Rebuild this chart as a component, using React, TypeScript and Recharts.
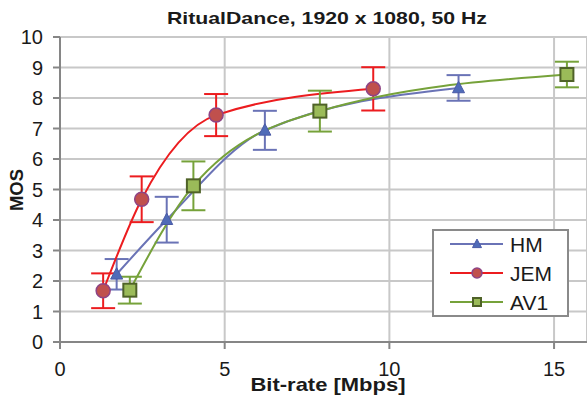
import React from 'react';
import {
  LineChart,
  Line,
  XAxis,
  YAxis,
  CartesianGrid,
  ErrorBar,
  ReferenceLine
} from 'recharts';

const hmRate = [1.72, 3.24, 6.22, 12.1];
const hmMos = [2.22, 4.01, 6.94, 8.33];
const hmErr = [0.5, 0.75, 0.64, 0.42];

const jemRate = [1.31, 2.48, 4.74, 9.51];
const jemMos = [1.68, 4.68, 7.44, 8.3];
const jemErr = [0.57, 0.75, 0.69, 0.71];

const av1Rate = [2.12, 4.05, 7.89, 15.39];
const av1Mos = [1.7, 5.12, 7.57, 8.77];
const av1Err = [0.44, 0.8, 0.67, 0.42];

const xTicks = [0, 5, 10, 15];
const yTicks = [0, 1, 2, 3, 4, 5, 6, 7, 8, 9, 10];

const toPoints = (rate: number[], mos: number[], err: number[]) =>
  rate.map((x, i) => ({ x, y: mos[i], err: err[i] }));

const hmData = toPoints(hmRate, hmMos, hmErr);
const jemData = toPoints(jemRate, jemMos, jemErr);
const av1Data = toPoints(av1Rate, av1Mos, av1Err);

const FONT = '"Liberation Sans", Arial, sans-serif';
const HM_COLOR = '#6a73b6';
const JEM_COLOR = '#ec1c1f';
const AV1_COLOR = '#76a23a';

const Triangle = ({ cx, cy, s = 12 }: any) => (
  <path
    d={`M${cx},${cy - s * 0.55} L${cx + s / 2},${cy + s * 0.4} L${cx - s / 2},${cy + s * 0.4} Z`}
    fill="#4f6bb8"
    stroke="#4a5aa6"
    strokeWidth={1}
  />
);
const Circle = ({ cx, cy, r = 7 }: any) => (
  <circle cx={cx} cy={cy} r={r} fill="#c0504d" stroke="#8e4485" strokeWidth={1.5} />
);
const Square = ({ cx, cy, s = 13 }: any) => (
  <rect x={cx - s / 2} y={cy - s / 2} width={s} height={s} fill="#9bbb59" stroke="#4f6228" strokeWidth={2} />
);

const legendItems = [
  { name: 'HM', color: HM_COLOR },
  { name: 'JEM', color: JEM_COLOR },
  { name: 'AV1', color: AV1_COLOR }
];

const LegendBox = () => (
  <g transform="translate(432,229)">
    <rect x={1} y={1} width={135} height={86} fill="#fff" stroke="#8a8a8a" strokeWidth={2} />
    {legendItems.map((it, i) => {
      const cy = 15 + i * 29;
      return (
        <g key={it.name}>
          <line x1={18} x2={71} y1={cy} y2={cy} stroke={it.color} strokeWidth={2} />
          {i === 0 && <Triangle cx={45} cy={cy} s={9} />}
          {i === 1 && <Circle cx={45} cy={cy} r={5} />}
          {i === 2 && <Square cx={45} cy={cy} s={8} />}
          <text x={78} y={cy + 7.5} fontSize={21} fontFamily={FONT} fill="#1a1a1a">
            {it.name}
          </text>
        </g>
      );
    })}
  </g>
);

const App: React.FC = () => {
  return (
    <div style={{ position: 'relative', width: 587, height: 406, background: '#fff', overflow: 'hidden' }}>
      <style>{'body{margin:0}'}</style>
      <LineChart width={587} height={406} margin={{ top: 37, right: 0, left: 0, bottom: 0 }}>
        <CartesianGrid stroke="#c8c8c8" strokeWidth={2} />
        <XAxis
          type="number"
          dataKey="x"
          domain={[0, 16]}
          ticks={xTicks}
          interval={0}
          height={64}
          allowDataOverflow
          stroke="#868686"
          strokeWidth={2}
          tickSize={7}
          tickMargin={13}
          tick={{ fontSize: 20, fontFamily: FONT, fill: '#1a1a1a' }}
        />
        <YAxis
          type="number"
          dataKey="y"
          domain={[0, 10]}
          ticks={yTicks}
          interval={0}
          width={60}
          stroke="#868686"
          strokeWidth={2}
          tickSize={7}
          tickMargin={10}
          tick={{ fontSize: 20, fontFamily: FONT, fill: '#1a1a1a' }}
        />
        <ReferenceLine x={16} stroke="#c8c8c8" strokeWidth={2} />
        <Line
          data={hmData}
          dataKey="y"
          name="HM"
          type="monotone"
          stroke={HM_COLOR}
          strokeWidth={2}
          dot={(p: any) => <Triangle key={`hm${p.index}`} cx={p.cx} cy={p.cy} />}
          activeDot={false}
          isAnimationActive={false}
        >
          <ErrorBar dataKey="err" direction="y" width={12} stroke={HM_COLOR} strokeWidth={2} />
        </Line>
        <Line
          data={jemData}
          dataKey="y"
          name="JEM"
          type="monotone"
          stroke={JEM_COLOR}
          strokeWidth={2}
          dot={(p: any) => <Circle key={`jem${p.index}`} cx={p.cx} cy={p.cy} />}
          activeDot={false}
          isAnimationActive={false}
        >
          <ErrorBar dataKey="err" direction="y" width={12} stroke={JEM_COLOR} strokeWidth={2} />
        </Line>
        <Line
          data={av1Data}
          dataKey="y"
          name="AV1"
          type="monotone"
          stroke={AV1_COLOR}
          strokeWidth={2}
          dot={(p: any) => <Square key={`av1${p.index}`} cx={p.cx} cy={p.cy} />}
          activeDot={false}
          isAnimationActive={false}
        >
          <ErrorBar dataKey="err" direction="y" width={12} stroke={AV1_COLOR} strokeWidth={2} />
        </Line>
      </LineChart>
      <svg
        width={587}
        height={406}
        style={{ position: 'absolute', left: 0, top: 0, pointerEvents: 'none' }}
      >
        <LegendBox />
        <text
          x={327}
          y={24}
          textAnchor="middle"
          fontSize={17}
          fontWeight="bold"
          fontFamily={FONT}
          fill="#1a1a1a"
          textLength={320}
          lengthAdjust="spacingAndGlyphs"
        >
          RitualDance, 1920 x 1080, 50 Hz
        </text>
        <text
          x={328}
          y={391}
          textAnchor="middle"
          fontSize={18.5}
          fontWeight="bold"
          fontFamily={FONT}
          fill="#1a1a1a"
          textLength={155}
          lengthAdjust="spacingAndGlyphs"
        >
          Bit-rate [Mbps]
        </text>
        <text
          transform="translate(23,190) rotate(-90)"
          textAnchor="middle"
          fontSize={18.5}
          fontWeight="bold"
          fontFamily={FONT}
          fill="#1a1a1a"
        >
          MOS
        </text>
      </svg>
    </div>
  );
};

export default App;
